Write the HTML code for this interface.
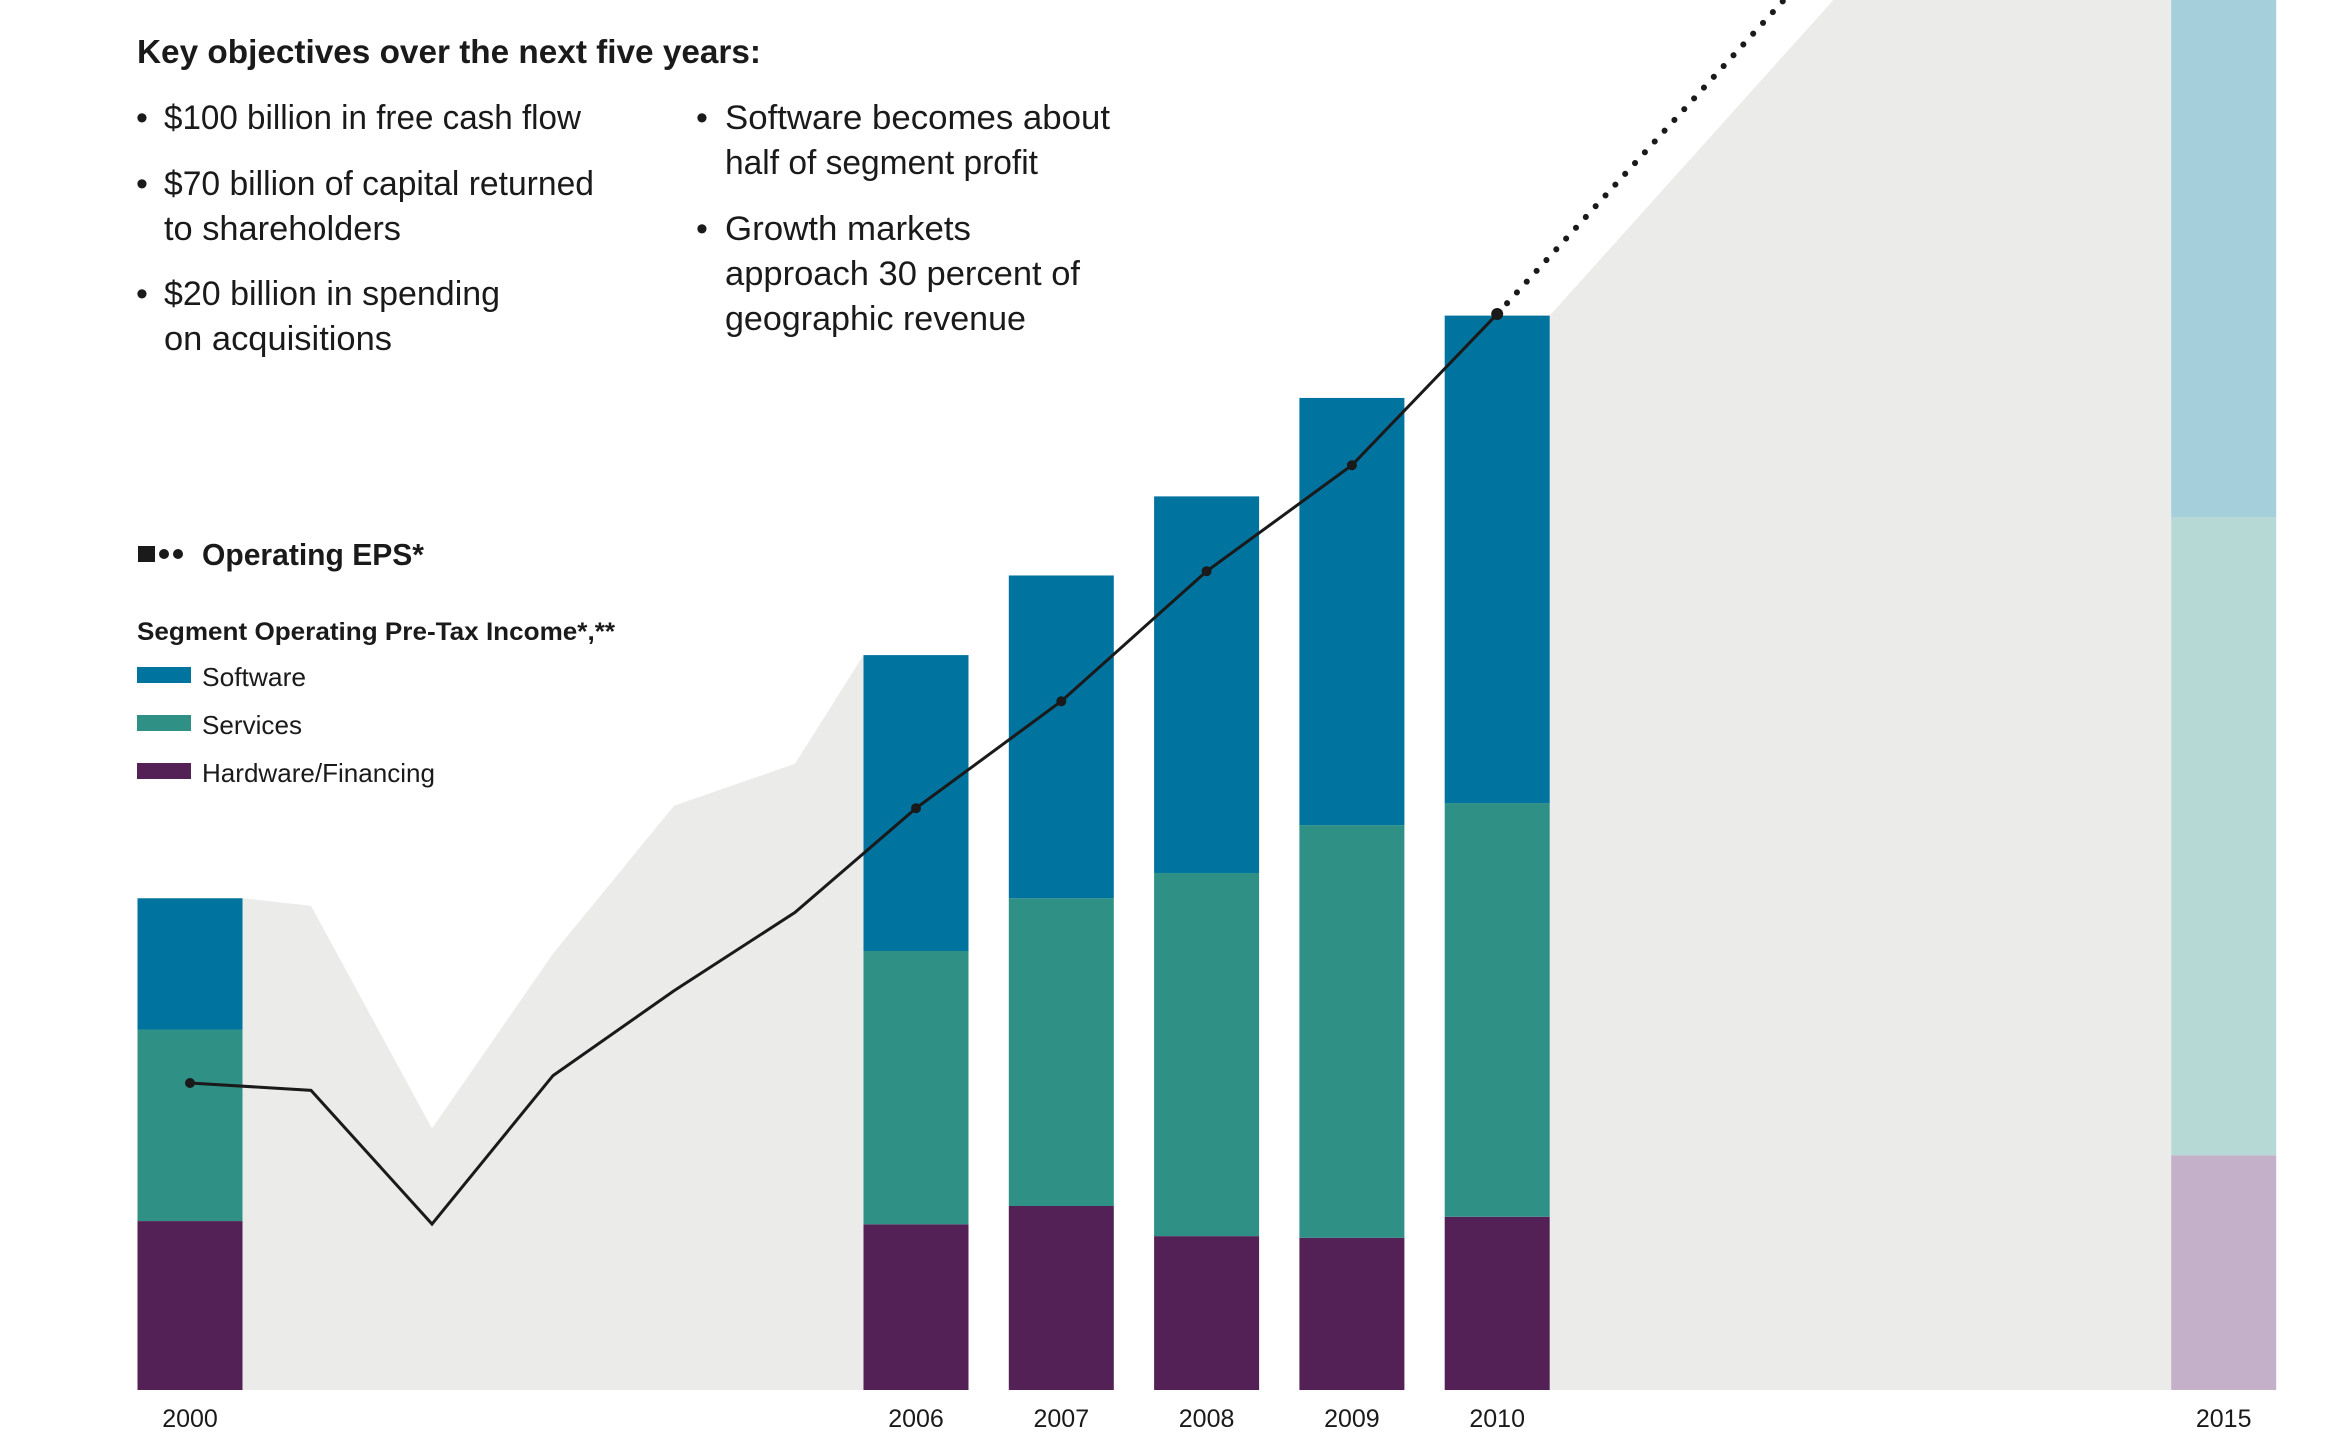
<!DOCTYPE html>
<html><head><meta charset="utf-8"><style>
html,body{margin:0;padding:0;background:#fff;}
svg{display:block;font-family:"Liberation Sans",sans-serif;}
</style></head><body>
<svg id="chart" width="2342" height="1456" viewBox="0 0 2342 1456" xmlns="http://www.w3.org/2000/svg">
<g id="bg"></g>
<g id="bars"></g>
<g id="line"></g>
<g id="xaxis"></g>

<g fill="#1a1a1a">
<text x="137" y="63" font-size="33" font-weight="bold" textLength="624" lengthAdjust="spacingAndGlyphs">Key objectives over the next five years:</text>
<g font-size="34">
<text x="136" y="129">•</text>
<text x="164" y="129" textLength="417" lengthAdjust="spacingAndGlyphs">$100 billion in free cash flow</text>
<text x="136" y="195">•</text>
<text x="164" y="195" textLength="430" lengthAdjust="spacingAndGlyphs">$70 billion of capital returned</text>
<text x="164" y="240" textLength="237" lengthAdjust="spacingAndGlyphs">to shareholders</text>
<text x="136" y="305">•</text>
<text x="164" y="305" textLength="336" lengthAdjust="spacingAndGlyphs">$20 billion in spending</text>
<text x="164" y="350" textLength="228" lengthAdjust="spacingAndGlyphs">on acquisitions</text>
<text x="696" y="129">•</text>
<text x="725" y="129" textLength="385" lengthAdjust="spacingAndGlyphs">Software becomes about</text>
<text x="725" y="174" textLength="313" lengthAdjust="spacingAndGlyphs">half of segment profit</text>
<text x="696" y="240">•</text>
<text x="725" y="240" textLength="246" lengthAdjust="spacingAndGlyphs">Growth markets</text>
<text x="725" y="285" textLength="355" lengthAdjust="spacingAndGlyphs">approach 30 percent of</text>
<text x="725" y="330" textLength="301" lengthAdjust="spacingAndGlyphs">geographic revenue</text>
</g>
</g>

<g fill="#1a1a1a">
<rect x="138" y="546" width="17" height="16" fill="#1a1a1a"/>
<circle cx="164" cy="554" r="5"/>
<circle cx="178" cy="554" r="5"/>
<text x="202" y="565" font-size="31" font-weight="bold" textLength="222" lengthAdjust="spacingAndGlyphs">Operating EPS*</text>
<text x="137" y="640" font-size="25" font-weight="bold" textLength="478" lengthAdjust="spacingAndGlyphs">Segment Operating Pre-Tax Income*,**</text>
<rect x="137" y="667" width="54" height="16" fill="#00739f"/>
<text x="202" y="686" font-size="26" textLength="104" lengthAdjust="spacingAndGlyphs">Software</text>
<rect x="137" y="715" width="54" height="16" fill="#2f9086"/>
<text x="202" y="734" font-size="26" textLength="100" lengthAdjust="spacingAndGlyphs">Services</text>
<rect x="137" y="763" width="54" height="16" fill="#532155"/>
<text x="202" y="782" font-size="26" textLength="233" lengthAdjust="spacingAndGlyphs">Hardware/Financing</text>
</g>

<script>
const years = [2000,2001,2002,2003,2004,2005,2006,2007,2008,2009,2010,2015];
const barYears = [2000,2006,2007,2008,2009,2010,2015];
const hardware = [3.14,3.08,3.42,2.86,2.83,3.22,4.36];
const services = [3.56,5.08,5.72,6.75,7.67,7.69,11.86];
const software = [2.44,5.50,6.00,7.00,7.94,9.06,16.6];
const areaYears = [2001,2002,2003,2004,2005];
const areaTotals = [9.0,4.86,8.11,10.86,11.64];
const eps = [3.33,3.25,1.80,3.41,4.33,5.18,6.31,7.47,8.88,10.03,11.67,20.3];
const yearLabels = ["2000","2006","2007","2008","2009","2010","2015"];

const NS="http://www.w3.org/2000/svg";
const base=1390, pxPerB=53.8, pxPerEps=92.2, barW=105;
function x(yr){ return yr<=2006 ? 190+(yr-2000)*121 : 916+(yr-2006)*145.3; }
function yB(v){ return base - v*pxPerB; }
function yE(v){ return base - v*pxPerEps; }
function mk(tag,parent){ const e=document.createElementNS(NS,tag); document.getElementById(parent).appendChild(e); return e; }

// background gray area
const totals = barYears.map((y,i)=>hardware[i]+services[i]+software[i]);
let pts=[];
pts.push([x(2000)+barW/2,base]);
pts.push([x(2000)+barW/2,yB(totals[0])]);
areaYears.forEach((yr,i)=>pts.push([x(yr),yB(areaTotals[i])]));
pts.push([x(2006)-barW/2,yB(totals[1])]);
pts.push([x(2006)-barW/2,base]);
const a1=mk('polygon','bg');


a1.setAttribute('points',pts.map(p=>p.join(',')).join(' '));
a1.setAttribute('fill','#ebebea');
const i10=barYears.indexOf(2010), i15=barYears.indexOf(2015);
const p2=[[x(2010)+barW/2,base],[x(2010)+barW/2,yB(totals[i10])],[x(2015)-barW/2,yB(totals[i15])],[x(2015)-barW/2,base]];
const a2=mk('polygon','bg');


a2.setAttribute('points',p2.map(p=>p.join(',')).join(' '));
a2.setAttribute('fill','#ebebea');

// bars
barYears.forEach((yr,i)=>{
  const proj = yr===2015;
  const segs=[[hardware[i],proj?'#c4b0c8':'#532155','hardware'],[services[i],proj?'#b6d9d6':'#2f9086','services'],[software[i],proj?'#a6cfdc':'#00739f','software']];
  let acc=0;
  segs.forEach(s=>{
    const r=mk('rect','bars');
    
    
    r.setAttribute('x',x(yr)-barW/2);
    r.setAttribute('y',yB(acc+s[0]));
    r.setAttribute('width',barW);
    r.setAttribute('height',s[0]*pxPerB);
    r.setAttribute('fill',s[1]);
    acc+=s[0];
  });
  const t=mk('text','xaxis');
  
  
  t.setAttribute('x',x(yr));
  t.setAttribute('y',1427);
  t.setAttribute('text-anchor','middle');
  t.setAttribute('font-size','25');
  t.setAttribute('fill','#1a1a1a');
  t.textContent=yearLabels[i];
});

// EPS line
const hist=years.filter(y=>y<=2010);
const ln=mk('polyline','line');


ln.setAttribute('points',hist.map((yr,i)=>x(yr)+','+yE(eps[i])).join(' '));
ln.setAttribute('fill','none');
ln.setAttribute('stroke','#1a1a1a');
ln.setAttribute('stroke-width','3');
const dl=mk('line','line');


dl.setAttribute('x1',x(2010));dl.setAttribute('y1',yE(eps[10]));
dl.setAttribute('x2',x(2015));dl.setAttribute('y2',yE(eps[11]));
dl.setAttribute('stroke','#1a1a1a');
dl.setAttribute('stroke-width','6');
dl.setAttribute('stroke-linecap','round');
dl.setAttribute('stroke-dasharray','0.1 14.5');
[2000,2006,2007,2008,2009,2010].forEach(yr=>{
  const i=years.indexOf(yr);
  const c=mk('circle','line');
  
  
  c.setAttribute('cx',x(yr));c.setAttribute('cy',yE(eps[i]));
  c.setAttribute('r',yr===2010?6:5);
  c.setAttribute('fill','#1a1a1a');
});
</script>
</svg>
</body></html>
